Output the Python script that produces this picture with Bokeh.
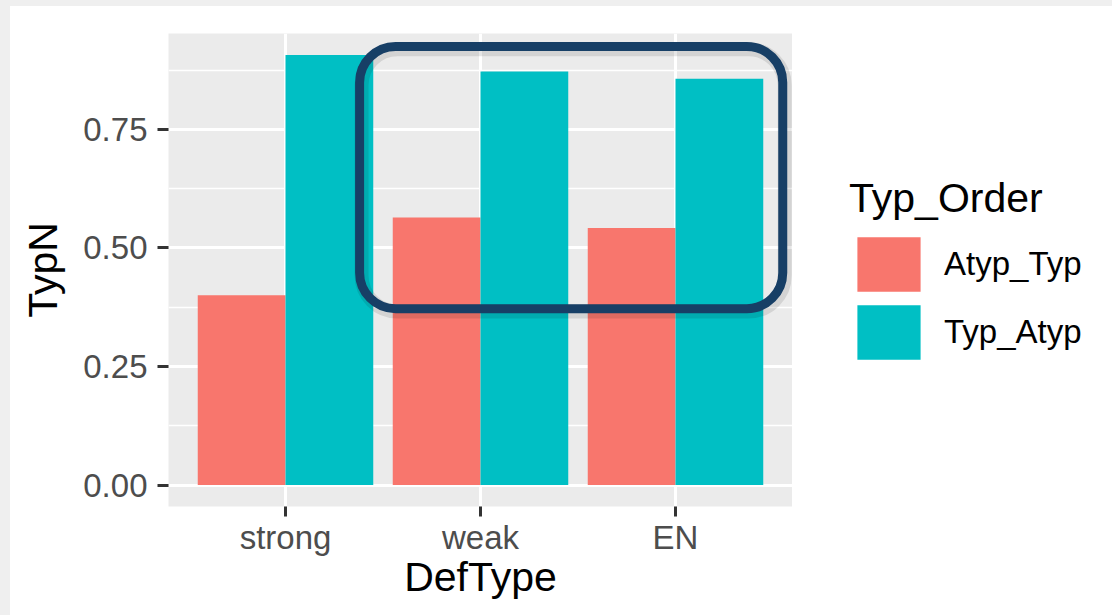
from bokeh.plotting import figure
from bokeh.models import (ColumnDataSource, FactorRange, Range1d, FixedTicker,
                          NumeralTickFormatter, Legend, LegendItem, BoxAnnotation)
from bokeh.transform import dodge
from bokeh.layouts import row
from bokeh.embed import file_html
from bokeh.resources import INLINE

# Proportion of typical responses by definition type and presentation order
def_types = ["strong", "weak", "EN"]
typ_orders = ["Atyp_Typ", "Typ_Atyp"]
atyp_typ = [0.400, 0.564, 0.542]
typ_atyp = [0.907, 0.872, 0.857]
y_ticks = [0.00, 0.25, 0.50, 0.75]
y_minor = [0.125, 0.375, 0.625, 0.875]
colors = ["#F8766D", "#00BFC4"]

FONT = "Liberation Sans"
PANEL = "#EBEBEB"

src = ColumnDataSource(dict(DefType=def_types, Atyp_Typ=atyp_typ, Typ_Atyp=typ_atyp))

ymax = max(atyp_typ + typ_atyp)
p = figure(
    x_range=FactorRange(factors=def_types, range_padding=0.1, range_padding_units="absolute"),
    y_range=Range1d(-0.05 * ymax, 1.05 * ymax),
    width=782, height=609,
    output_backend="svg", toolbar_location=None,
    min_border_left=158, min_border_right=0, min_border_top=27, min_border_bottom=109,
    background_fill_color=PANEL, border_fill_color="white", outline_line_color=None,
)

# bars, dodged side by side within each definition type
renderers = []
for i, (name, col) in enumerate(zip(typ_orders, colors)):
    r = p.vbar(x=dodge("DefType", -0.225 + 0.45 * i, range=p.x_range), top=name,
               width=0.45, source=src, fill_color=col, line_color=None)
    renderers.append(r)

# grid
p.xgrid.grid_line_color = "white"
p.xgrid.grid_line_width = 3
p.ygrid.grid_line_color = "white"
p.ygrid.grid_line_width = 3
p.ygrid.minor_grid_line_color = "white"
p.ygrid.minor_grid_line_width = 1.5
p.yaxis.ticker = FixedTicker(ticks=y_ticks, minor_ticks=y_minor)
p.yaxis.formatter = NumeralTickFormatter(format="0.00")

# axes
for ax in (p.xaxis[0], p.yaxis[0]):
    ax.axis_line_color = None
    ax.major_tick_line_color = "#333333"
    ax.major_tick_line_width = 3
    ax.major_tick_in = 0
    ax.minor_tick_line_color = None
    ax.major_label_text_font = FONT
    ax.major_label_text_font_size = "33px"
    ax.major_label_text_color = "#4D4D4D"
    ax.axis_label_text_font = FONT
    ax.axis_label_text_font_size = "41px"
    ax.axis_label_text_font_style = "normal"
    ax.axis_label_text_color = "black"

p.xaxis.major_tick_out = 10
p.xaxis.major_label_standoff = 2
p.xaxis.axis_label = "DefType"
p.xaxis.axis_label_standoff = -5
p.yaxis.major_tick_out = 11
p.yaxis.major_label_standoff = 10
p.yaxis.axis_label = "TypN"
p.yaxis.axis_label_standoff = 14

# highlight around the weak and EN groups
hx = (0.88, 3.05)
hy = (0.372, 0.925)
shadow = BoxAnnotation(left=hx[0] + 0.01, right=hx[1] + 0.01, bottom=hy[0] - 0.006, top=hy[1] - 0.006,
                       fill_alpha=0, line_color="#000000", line_alpha=0.10, line_width=14,
                       border_radius=36)
box = BoxAnnotation(left=hx[0], right=hx[1], bottom=hy[0], top=hy[1],
                    fill_alpha=0, line_color="#173F66", line_alpha=1.0, line_width=9,
                    border_radius=36)
p.add_layout(shadow)
p.add_layout(box)

# legend panel: a bare figure holding hidden copies of the bar renderers
lg = figure(
    x_range=FactorRange(factors=def_types), y_range=Range1d(0, 1),
    width=320, height=609, output_backend="svg", toolbar_location=None,
    x_axis_type=None, y_axis_type=None, min_border=0,
    background_fill_color="white", border_fill_color="white", outline_line_color=None,
)
lg.grid.visible = False
key_renderers = [lg.vbar(x="DefType", top=name, width=0.45, source=src,
                         fill_color=col, line_color=None, visible=False)
                 for name, col in zip(typ_orders, colors)]

# area keys are inset by 10% of the glyph box on every side
legend = Legend(
    items=[LegendItem(label=n, renderers=[r]) for n, r in zip(typ_orders, key_renderers)],
    title="Typ_Order", location=(57, 140), click_policy="none",
    title_text_font=FONT, title_text_font_size="41px", title_text_font_style="normal",
    title_text_color="black", title_standoff=8,
    label_text_font=FONT, label_text_font_size="33px", label_text_color="black",
    glyph_width=79, glyph_height=68, spacing=0, label_standoff=16,
    padding=0, margin=0, border_line_color=None, background_fill_alpha=0,
)
lg.add_layout(legend, "center")

page = row(p, lg, width=1112, height=615,
           styles={"background-color": "white",
                   "box-sizing": "border-box",
                   "border-top": "6px solid #EFEFEF",
                   "border-left": "10px solid #EFEFEF"})
open("out.html", "w").write(file_html(page, INLINE))
